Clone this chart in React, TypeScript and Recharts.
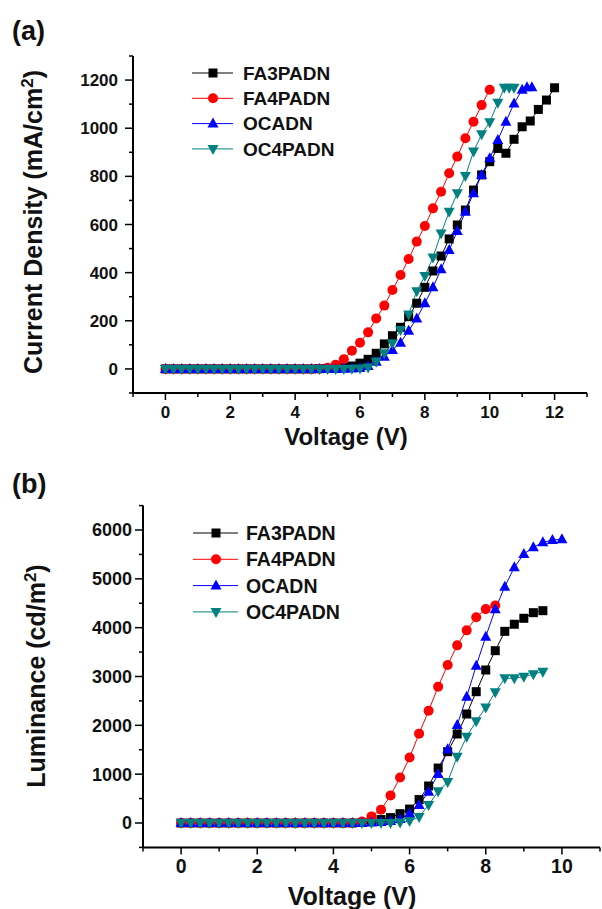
import React from 'react';
import { LineChart, Line, XAxis, YAxis, Legend } from 'recharts';

const FONT = '"Liberation Sans", Arial, Helvetica, sans-serif';

// series
const NAMES = ['FA3PADN', 'FA4PADN', 'OCADN', 'OC4PADN'];
const COLORS = ['#000000', '#ff0000', '#0000ff', '#008080'];
const SHAPES = ['square', 'circle', 'up', 'down'];

// (a) current density vs voltage
const V_A = [
  0, 0.25, 0.5, 0.75, 1, 1.25, 1.5, 1.75, 2, 2.25, 2.5, 2.75, 3, 3.25, 3.5, 3.75, 4, 4.25, 4.5, 4.75,
  5, 5.25, 5.5, 5.75, 6, 6.25, 6.5, 6.75, 7, 7.25, 7.5, 7.75, 8, 8.25, 8.5, 8.75, 9, 9.25, 9.5, 9.75,
  10, 10.25, 10.5, 10.75, 11, 11.25, 11.5, 11.75, 12,
];
const V_A_OCADN = [...V_A.slice(0, 44), 11.0, 11.15, 11.3];
const V_A_OC4PADN = [...V_A.slice(0, 42), 10.45, 10.6, 10.75];

const J_FA3PADN = [
  0, 0, 0, 0, 0, 0, 0, 0, 0, 0, 0, 0, 0, 0, 0, 0, 0, 0, 0, 1,
  2, 3, 6, 12, 24, 40, 65, 104, 138, 173, 217, 273, 339, 407, 469, 540, 598, 660, 743, 806,
  861, 916, 896, 954, 1006, 1030, 1078, 1117, 1168,
];
const J_FA4PADN = [
  0, 0, 0, 0, 0, 0, 0, 0, 0, 0, 0, 0, 0, 0, 0, 0, 0, 0, 0, 1,
  5, 17, 40, 76, 109, 152, 210, 263, 328, 390, 457, 529, 594, 667, 736, 813, 882, 958, 1027, 1096,
  1160,
];
const J_OCADN = [
  0, 0, 0, 0, 0, 0, 0, 0, 0, 0, 0, 0, 0, 0, 0, 0, 0, 0, 0, 0,
  0, 0, 1, 2, 4, 12, 30, 51, 79, 109, 159, 210, 273, 339, 414, 494, 573, 653, 730, 806,
  875, 951, 1027, 1103, 1160, 1170, 1170,
];
const J_OC4PADN = [
  0, 0, 0, 0, 0, 0, 0, 0, 0, 0, 0, 0, 0, 0, 0, 0, 0, 0, 0, 0,
  0, 0, 0, 1, 2, 6, 30, 65, 107, 162, 226, 323, 386, 463, 563, 653, 730, 801, 903, 975,
  1025, 1106, 1168, 1168, 1168,
];

// (b) luminance vs voltage
const V_B = [
  0, 0.25, 0.5, 0.75, 1, 1.25, 1.5, 1.75, 2, 2.25, 2.5, 2.75, 3, 3.25, 3.5, 3.75, 4, 4.25, 4.5, 4.75,
  5, 5.25, 5.5, 5.75, 6, 6.25, 6.5, 6.75, 7, 7.25, 7.5, 7.75, 8, 8.25, 8.5, 8.75, 9, 9.25, 9.5, 9.75, 10,
];
const L_FA3PADN = [
  0, 0, 0, 0, 0, 0, 0, 0, 0, 0, 0, 0, 0, 0, 0, 0, 0, 0, 0, 10,
  30, 70, 110, 190, 285, 480, 758, 1125, 1460, 1823, 2232, 2689, 3133, 3529, 3925, 4070, 4192, 4307, 4348,
];
const L_FA4PADN = [
  0, 0, 0, 0, 0, 0, 0, 0, 0, 0, 0, 0, 0, 0, 0, 0, 0, 0, 0, 30,
  135, 273, 565, 932, 1340, 1830, 2300, 2792, 3236, 3638, 3945, 4212, 4380, 4455,
];
const L_OCADN = [
  0, 0, 0, 0, 0, 0, 0, 0, 0, 0, 0, 0, 0, 0, 0, 0, 0, 0, 0, 0,
  10, 20, 40, 80, 199, 369, 641, 1003, 1509, 2007, 2587, 3221, 3815, 4376, 4840, 5236, 5509, 5646, 5748, 5796,
  5810,
];
const L_OC4PADN = [
  0, 0, 0, 0, 0, 0, 0, 0, 0, 0, 0, 0, 0, 0, 0, 0, 0, 0, 0, 0,
  0, 0, 0, 10, 40, 125, 369, 648, 840, 1358, 1768, 2085, 2365, 2679, 2963, 2963, 2997, 3048, 3099,
];

// ticks
const X_TICKS_A = [-1, 0, 1, 2, 3, 4, 5, 6, 7, 8, 9, 10, 11, 12, 13];
const Y_TICKS_A = [-100, 0, 100, 200, 300, 400, 500, 600, 700, 800, 900, 1000, 1100, 1200, 1300];
const X_TICKS_B = [-1, 0, 1, 2, 3, 4, 5, 6, 7, 8, 9, 10, 11];
const Y_TICKS_B = [-500, 0, 500, 1000, 1500, 2000, 2500, 3000, 3500, 4000, 4500, 5000, 5500, 6000, 6500];

const pts = (vs: number[], ys: number[]) => ys.map((y, i) => ({ v: vs[i], y }));

const SERIES_A = [
  pts(V_A, J_FA3PADN),
  pts(V_A, J_FA4PADN),
  pts(V_A_OCADN, J_OCADN),
  pts(V_A_OC4PADN, J_OC4PADN),
];
const SERIES_B = [
  pts(V_B, L_FA3PADN),
  pts(V_B, L_FA4PADN),
  pts(V_B, L_OCADN),
  pts(V_B, L_OC4PADN),
];

function Marker({ cx, cy, shape, color }: any) {
  if (cx == null || cy == null) return null;
  if (shape === 'square') return <rect x={cx - 4.5} y={cy - 4.5} width={9} height={9} fill={color} />;
  if (shape === 'circle') return <circle cx={cx} cy={cy} r={5} fill={color} />;
  if (shape === 'up')
    return <polygon points={`${cx},${cy - 6} ${cx + 5.5},${cy + 4} ${cx - 5.5},${cy + 4}`} fill={color} />;
  return <polygon points={`${cx},${cy + 6} ${cx + 5.5},${cy - 4} ${cx - 5.5},${cy - 4}`} fill={color} />;
}

const makeXTick = (isMajor: (v: number) => boolean, fs: number, base: number) => (p: any) => {
  const v = p.payload.value;
  const major = isMajor(v);
  return (
    <g key={`xt-${v}`}>
      <line x1={p.x} x2={p.x} y1={p.y} y2={p.y + (major ? 7 : 4)} stroke="#000" strokeWidth={1.5} />
      {major && (
        <text x={p.x} y={p.y + base} textAnchor="middle" fontSize={fs} fontWeight="bold" fontFamily={FONT} fill="#111">
          {v}
        </text>
      )}
    </g>
  );
};

const makeYTick = (isMajor: (v: number) => boolean, fs: number, gap: number) => (p: any) => {
  const v = p.payload.value;
  const major = isMajor(v);
  return (
    <g key={`yt-${v}`}>
      <line x1={p.x - (major ? 8 : 4)} x2={p.x} y1={p.y} y2={p.y} stroke="#000" strokeWidth={1.5} />
      {major && (
        <text x={p.x - gap} y={p.y + fs * 0.36} textAnchor="end" fontSize={fs} fontWeight="bold" fontFamily={FONT} fill="#111">
          {v}
        </text>
      )}
    </g>
  );
};

function LegendBox({ gap, lx1, lx2, mx, tx, fs }: any) {
  return (
    <svg width={200} height={4 * gap + 10} style={{ overflow: 'visible' }}>
      {NAMES.map((n, i) => {
        const y = 13 + i * gap;
        return (
          <g key={n}>
            <line x1={lx1} x2={lx2} y1={y} y2={y} stroke={COLORS[i]} strokeWidth={1} />
            <Marker cx={mx} cy={y} shape={SHAPES[i]} color={COLORS[i]} />
            <text x={tx} y={y + fs * 0.36} fontSize={fs} fontWeight="bold" fontFamily={FONT} fill="#111">
              {n}
            </text>
          </g>
        );
      })}
    </svg>
  );
}

function seriesLines(data: any[][], tag: string) {
  return data.map((d, i) => (
    <Line
      key={`${tag}-${NAMES[i]}`}
      data={d}
      dataKey="y"
      name={NAMES[i]}
      type="linear"
      stroke={COLORS[i]}
      strokeWidth={1}
      isAnimationActive={false}
      dot={(p: any) => (
        <Marker key={`${tag}-${i}-${p.index}`} cx={p.cx} cy={p.cy} shape={SHAPES[i]} color={COLORS[i]} />
      )}
      activeDot={false}
    />
  ));
}

const axisLine = { stroke: '#000', strokeWidth: 2 };

export default function App() {
  return (
    <div style={{ position: 'absolute', left: 0, top: 0, width: 602, height: 909, background: '#fff', fontFamily: FONT, overflow: 'hidden' }}>
      <div style={{ position: 'absolute', left: 0, top: 0 }}>
        <LineChart width={602} height={455} margin={{ top: 56, right: 15, bottom: 0, left: 0 }}>
          <XAxis
            type="number"
            dataKey="v"
            domain={[-1, 13]}
            ticks={X_TICKS_A}
            interval={0}
            allowDataOverflow
            height={62}
            tickSize={0}
            tickMargin={0}
            tickLine={false}
            axisLine={axisLine}
            tick={makeXTick((v) => v >= 0 && v <= 12 && v % 2 === 0, 17, 25)}
            label={() => (
              <text x={346} y={445} textAnchor="middle" fontSize={24} fontWeight="bold" fontFamily={FONT} fill="#111">
                Voltage (V)
              </text>
            )}
          />
          <YAxis
            type="number"
            domain={[-100, 1300]}
            ticks={Y_TICKS_A}
            interval={0}
            allowDataOverflow
            width={133}
            tickSize={0}
            tickMargin={0}
            tickLine={false}
            axisLine={axisLine}
            tick={makeYTick((v) => v >= 0 && v <= 1200 && v % 200 === 0, 17, 15)}
            label={() => (
              <g>
                <text x={12} y={40} fontSize={27} fontWeight="bold" fontFamily={FONT} fill="#111">(a)</text>
                <text
                  x={42}
                  y={222}
                  transform="rotate(-90, 42, 222)"
                  textAnchor="middle"
                  fontSize={25}
                  fontWeight="bold"
                  fontFamily={FONT}
                  fill="#111"
                >
                  Current Density (mA/cm<tspan dy={-9} fontSize={17}>2</tspan>
                  <tspan dy={9}>)</tspan>
                </text>
              </g>
            )}
          />
          <Legend
            layout="vertical"
            align="center"
            verticalAlign="middle"
            wrapperStyle={{ left: 185, top: 60 }}
            content={() => <LegendBox gap={25.3} lx1={7} lx2={48} mx={28} tx={58} fs={19} />}
          />
          {seriesLines(SERIES_A, 'a')}
        </LineChart>
      </div>
      <div style={{ position: 'absolute', left: 0, top: 460 }}>
        <LineChart width={602} height={449} margin={{ top: 45.6, right: 2, bottom: 0, left: 0 }}>
          <XAxis
            type="number"
            dataKey="v"
            domain={[-1, 11]}
            ticks={X_TICKS_B}
            interval={0}
            allowDataOverflow
            height={61.6}
            tickSize={0}
            tickMargin={0}
            tickLine={false}
            axisLine={axisLine}
            tick={makeXTick((v) => v >= 0 && v <= 10 && v % 2 === 0, 19.5, 26)}
            label={() => (
              <text x={352} y={445} textAnchor="middle" fontSize={25} fontWeight="bold" fontFamily={FONT} fill="#111">
                Voltage (V)
              </text>
            )}
          />
          <YAxis
            type="number"
            domain={[-500, 6500]}
            ticks={Y_TICKS_B}
            interval={0}
            allowDataOverflow
            width={143}
            tickSize={0}
            tickMargin={0}
            tickLine={false}
            axisLine={axisLine}
            tick={makeYTick((v) => v >= 0 && v <= 6000 && v % 1000 === 0, 18, 11)}
            label={() => (
              <g>
                <text x={12} y={33} fontSize={27} fontWeight="bold" fontFamily={FONT} fill="#111">(b)</text>
                <text
                  x={45}
                  y={216}
                  transform="rotate(-90, 45, 216)"
                  textAnchor="middle"
                  fontSize={25}
                  fontWeight="bold"
                  fontFamily={FONT}
                  fill="#111"
                >
                  Luminance (cd/m<tspan dy={-9} fontSize={17}>2</tspan>
                  <tspan dy={9}>)</tspan>
                </text>
              </g>
            )}
          />
          <Legend
            layout="vertical"
            align="center"
            verticalAlign="middle"
            wrapperStyle={{ left: 185, top: 60 }}
            content={() => <LegendBox gap={26.3} lx1={8} lx2={53} mx={31} tx={61} fs={19.5} />}
          />
          {seriesLines(SERIES_B, 'b')}
        </LineChart>
      </div>
    </div>
  );
}
